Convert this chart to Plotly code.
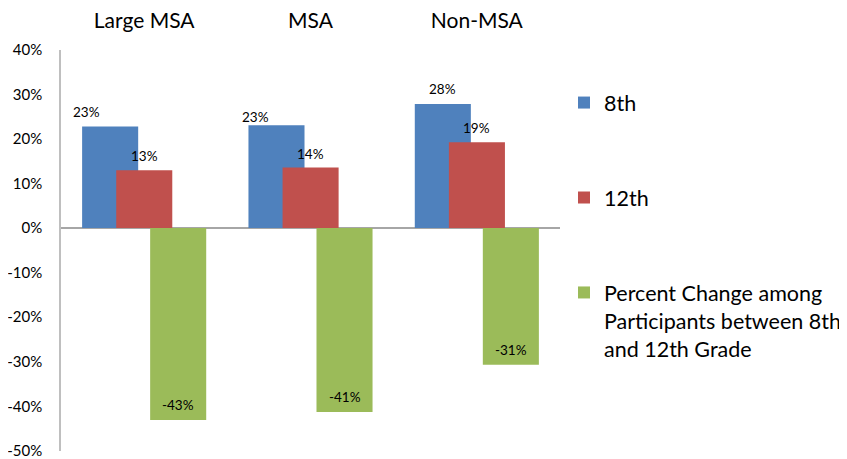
import plotly.graph_objects as go

categories = ["Large MSA", "MSA", "Non-MSA"]
eighth = [0.228, 0.231, 0.279]
twelfth = [0.130, 0.136, 0.193]
pct_change = [-0.431, -0.413, -0.307]
eighth_labels = ["23%", "23%", "28%"]
twelfth_labels = ["13%", "14%", "19%"]
change_labels = ["-43%", "-41%", "-31%"]
y_ticks = [-0.5, -0.4, -0.3, -0.2, -0.1, 0.0, 0.1, 0.2, 0.3, 0.4]
y_tick_labels = ["-50%", "-40%", "-30%", "-20%", "-10%", "0%", "10%", "20%", "30%", "40%"]
series_names = ["8th", "12th",
                "Percent Change among<br>Participants between 8th<br>and 12th Grade"]

BLUE, RED, GREEN = "#4F81BD", "#C0504D", "#9BBB59"
FONT = "Lato"
W = 0.337
offsets = [-0.373, -0.168, 0.036]

fig = go.Figure()
for vals, name, col, off, grp in zip([eighth, twelfth, pct_change], series_names,
                                     [BLUE, RED, GREEN], offsets, ["a", "b", "c"]):
    fig.add_trace(go.Bar(x=list(range(len(categories))), y=vals, name=name,
                         marker=dict(color=col, line=dict(width=0)),
                         width=W, offset=off, legendgroup=grp))

# data labels
blue_xshift = [-24, -21, 0]
blue_yshift = [15, 8, 15]
for i in range(len(categories)):
    fig.add_annotation(x=i + offsets[0] + W / 2, y=eighth[i], text=eighth_labels[i],
                       showarrow=False, yshift=blue_yshift[i], xshift=blue_xshift[i],
                       font=dict(size=13.5, color="#000", family=FONT))
    fig.add_annotation(x=i + offsets[1] + W / 2, y=twelfth[i], text=twelfth_labels[i],
                       showarrow=False, yshift=14,
                       font=dict(size=13.5, color="#000", family=FONT))
    fig.add_annotation(x=i + offsets[2] + W / 2, y=pct_change[i], text=change_labels[i],
                       showarrow=False, yshift=15,
                       font=dict(size=13.5, color="#000", family=FONT))

# the page body has an 8px default margin, so the figure is sized to fit the window
fig.update_layout(
    width=839, height=451,
    barmode="overlay",
    plot_bgcolor="white", paper_bgcolor="white",
    margin=dict(l=53, r=287, t=42, b=8, autoexpand=False),
    font=dict(family=FONT, color="#000"),
    showlegend=True,
    legend=dict(x=1.008, y=0.92, xanchor="left", yanchor="top", valign="top",
                font=dict(size=21.5, family=FONT), tracegroupgap=64,
                itemwidth=30, bgcolor="rgba(0,0,0,0)"),
    xaxis=dict(side="top", tickmode="array", tickvals=list(range(len(categories))),
               ticktext=categories, range=[-0.5, 2.5], showline=False, showgrid=False,
               zeroline=False, tickfont=dict(size=21, family=FONT), ticks="",
               ticklabelstandoff=17, automargin=False, ticklabeloverflow="allow"),
    yaxis=dict(range=[-0.5005, 0.4], tickmode="array", tickvals=y_ticks,
               ticktext=y_tick_labels, showgrid=False,
               zeroline=True, zerolinecolor="#A6A6A6", zerolinewidth=1.5,
               showline=True, linecolor="#BFBFBF", linewidth=1.5,
               tickfont=dict(size=15, family=FONT), ticks="", ticklabelstandoff=14,
               automargin=False, ticklabeloverflow="allow"),
)

fig.write_html("out.html")
